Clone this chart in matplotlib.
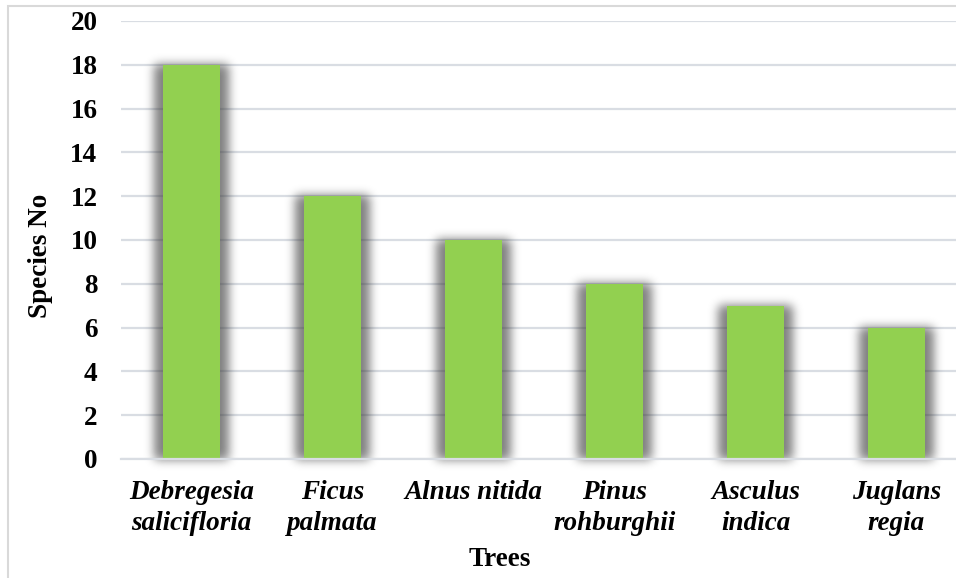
import numpy as np
import matplotlib
matplotlib.use("Agg")
import matplotlib.pyplot as plt
from matplotlib.patches import Rectangle

trees = ["Debregesia\nsalicifloria", "Ficus\npalmata", "Alnus nitida",
         "Pinus\nrohburghii", "Asculus\nindica", "Juglans\nregia"]
species_no = [18, 12, 10, 8, 7, 6]
y_ticks = [0, 2, 4, 6, 8, 10, 12, 14, 16, 18, 20]

plt.rcParams["font.family"] = ["Liberation Serif", "DejaVu Serif"]
FS = 19.5


def soft_shadow(im, dpi, sigma=5):
    """Gaussian-blur the rendered patch to make a soft drop shadow."""
    pad = int(3 * sigma)
    src = np.pad(im, ((pad, pad), (pad, pad), (0, 0)))
    r = np.arange(-pad, pad + 1)
    k = np.exp(-0.5 * (r / sigma) ** 2)
    k /= k.sum()
    tmp = np.zeros_like(src)
    for i, w in zip(r, k):
        tmp += w * np.roll(src, i, axis=0)
    out = np.zeros_like(src)
    for i, w in zip(r, k):
        out += w * np.roll(tmp, i, axis=1)
    return out, -pad, -pad


fig = plt.figure(figsize=(9.56, 5.78), dpi=100)
ax = fig.add_axes([121 / 956, 1 - 459 / 578, 1 - 121 / 956, (459 - 21) / 578])

x = np.arange(len(trees))

# shadow layer
shadow = ax.bar(x, species_no, width=0.52, color="#3a3a3a", alpha=0.65,
                zorder=1, linewidth=0)
for p in shadow:
    p.set_agg_filter(soft_shadow)

ax.bar(x, species_no, width=0.4, color="#92D050", zorder=2, linewidth=0)

ax.set_xlim(-0.5, -0.5 + (956 - 121) / 141)
ax.set_ylim(0, 20)
ax.set_yticks(y_ticks)
ax.set_yticklabels([str(v) for v in y_ticks], fontsize=FS, fontweight="bold")
ax.set_xticks(x)
ax.set_xticklabels(trees, fontsize=FS, fontweight="bold", style="italic",
                   linespacing=1.32)

ax.grid(axis="y", color="#d9dde3", linewidth=1.6, zorder=0)
ax.set_axisbelow(True)
for s in ["top", "right", "left"]:
    ax.spines[s].set_visible(False)
ax.spines["bottom"].set_color("#d9dde3")
ax.spines["bottom"].set_linewidth(1.6)
ax.tick_params(axis="both", length=0)
ax.tick_params(axis="y", pad=17)
ax.tick_params(axis="x", pad=15)

ax.set_ylabel("Species No", fontsize=FS, fontweight="bold", labelpad=14)
ax.yaxis.set_label_coords(-(121 - 40) / 835, (459 - 256) / 438)
ax.set_xlabel("Trees", fontsize=FS, fontweight="bold")
ax.xaxis.set_label_coords((500 - 121) / 835, -(560 - 459) / 438)
ax.xaxis.label.set_va("center")
ax.yaxis.label.set_va("center")

# chart frame
fig.patches.append(Rectangle((8 / 956, -0.1), 1.2, 1 - 6 / 578 + 0.1,
                             transform=fig.transFigure, fill=False,
                             edgecolor="#d9d9d9", linewidth=1.5))

fig.savefig("out.png", dpi=100)
